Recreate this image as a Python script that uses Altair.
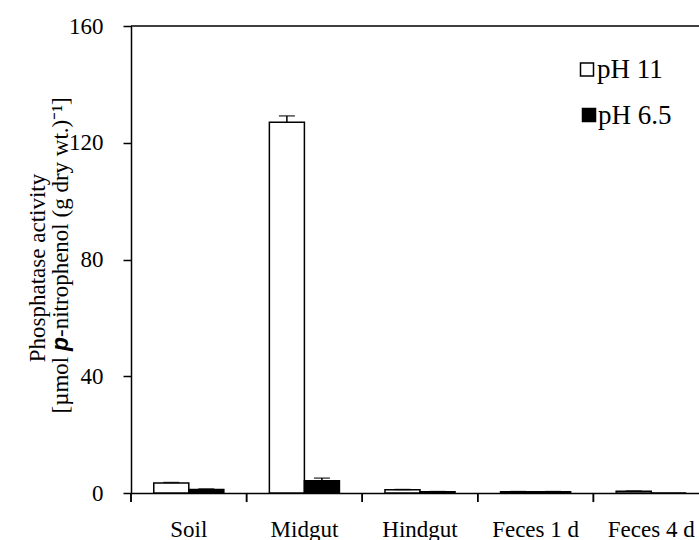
import altair as alt
import pandas as pd

# Phosphatase activity per gut section / sample, two assay pH values
categories = ["Soil", "Midgut", "Hindgut", "Feces 1 d", "Feces 4 d"]
series = ["pH 11", "pH 6.5"]
ph11_mean = [3.4, 127.0, 1.1, 0.4, 0.6]
ph11_err = [0.2, 2.2, 0.1, 0.1, 0.1]
ph65_mean = [1.2, 4.2, 0.4, 0.4, 0.0]
ph65_err = [0.2, 0.9, 0.1, 0.1, 0.0]
y_ticks = [0, 40, 80, 120, 160]

rows = []
for i, site in enumerate(categories):
    for name, means, errs in (("pH 11", ph11_mean, ph11_err), ("pH 6.5", ph65_mean, ph65_err)):
        rows.append({"site": site, "ph": name, "mean": means[i],
                     "err": errs[i], "upper": means[i] + errs[i]})
df = pd.DataFrame(rows)

SERIF = "Liberation Serif"
LEFT, TOP = 131, 26   # plot origin inside the page
PLOT_W = 568          # visible part of the plot area
BAND_RANGE = 578      # full category range (last band runs past the edge)
PLOT_H = 467
LINE = 1.5

x_enc = alt.X(
    "site:N", sort=categories,
    scale=alt.Scale(range=[0, BAND_RANGE], paddingInner=0, paddingOuter=0),
    axis=alt.Axis(title=None, ticks=False, tickSize=0, labelAngle=0,
                  labelFont=SERIF, labelFontSize=23, labelColor="black",
                  labelPadding=25, domainColor="black", domainWidth=LINE),
)
x_off = alt.XOffset("ph:N", sort=series,
                    scale=alt.Scale(paddingOuter=0.65, paddingInner=0))
y_scale = alt.Scale(domain=[0, 160], nice=False)

base = alt.Chart(df)

bars = base.mark_bar(stroke="black", strokeWidth=LINE).encode(
    x=x_enc,
    xOffset=x_off,
    y=alt.Y("mean:Q", scale=y_scale,
            axis=alt.Axis(title=None, values=y_ticks, grid=False,
                          tickSize=8, tickWidth=LINE, tickColor="black",
                          domainColor="black", domainWidth=LINE,
                          labelFont=SERIF, labelFontSize=23, labelColor="black",
                          labelPadding=20)),
    fill=alt.Fill("ph:N", sort=series,
                  scale=alt.Scale(domain=series, range=["white", "black"]),
                  legend=None),
)

err_df = base.transform_filter(alt.datum.err > 0)
err_lines = err_df.mark_rule(color="black", strokeWidth=LINE).encode(
    x=alt.X("site:N", sort=categories), xOffset=x_off,
    y=alt.Y("mean:Q", scale=y_scale), y2="upper:Q",
)
err_caps = err_df.mark_tick(color="black", thickness=LINE, size=16,
                            orient="horizontal").encode(
    x=alt.X("site:N", sort=categories), xOffset=x_off,
    y=alt.Y("upper:Q", scale=y_scale),
)

# category separators below the baseline
sep_ticks = base.mark_rule(color="black", strokeWidth=LINE).encode(
    x=alt.X("site:N", sort=categories, bandPosition=0),
    y=alt.value(PLOT_H), y2=alt.value(PLOT_H + 9),
)

one = alt.Data(values=[{}])

top_border = alt.Chart(one).mark_rule(color="black", strokeWidth=LINE).encode(
    x=alt.value(0), x2=alt.value(BAND_RANGE), y=alt.value(0),
)

# legend
LEG_FS = 27
def legend_entry(label, fill, sq_x, sq_y, tx, ty):
    sq = alt.Chart(one).mark_square(size=169, fill=fill, stroke="black",
                                    strokeWidth=LINE, opacity=1).encode(
        x=alt.value(sq_x - LEFT), y=alt.value(sq_y - TOP))
    tx_mark = alt.Chart(one).mark_text(text=label, font=SERIF, fontSize=LEG_FS,
                                       align="left", baseline="alphabetic",
                                       color="black").encode(
        x=alt.value(tx - LEFT), y=alt.value(ty - TOP))
    return sq + tx_mark

leg1 = legend_entry("pH 11", "white", 587, 69.5, 597, 78)
leg2 = legend_entry("pH 6.5", "black", 589, 115, 598, 124)

# y-axis title, with a bold italic sans "p"
TITLE_FS = 23
line1 = alt.Chart(one).mark_text(text="Phosphatase activity", font=SERIF,
                                 fontSize=TITLE_FS, angle=270, align="center",
                                 baseline="alphabetic", color="black").encode(
    x=alt.value(45 - LEFT), y=alt.value(268 - TOP))
P_START = 351 - TOP
P_W = 0.611 * TITLE_FS
SPACE_W = 0.25 * TITLE_FS
L2_X = 68 - LEFT
l2a = alt.Chart(one).mark_text(text="[µmol", font=SERIF, fontSize=TITLE_FS,
                               angle=270, align="right", baseline="alphabetic",
                               color="black").encode(
    x=alt.value(L2_X), y=alt.value(P_START + SPACE_W))
l2b = alt.Chart(one).mark_text(text="p", font="Liberation Sans", fontSize=TITLE_FS,
                               fontStyle="italic", fontWeight="bold",
                               angle=270, align="left", baseline="alphabetic",
                               color="black").encode(
    x=alt.value(L2_X), y=alt.value(P_START))
l2c = alt.Chart(one).mark_text(text="-nitrophenol (g dry wt.)⁻¹]", font=SERIF,
                               fontSize=TITLE_FS, angle=270, align="left",
                               baseline="alphabetic", color="black").encode(
    x=alt.value(L2_X), y=alt.value(P_START - P_W))

chart = alt.layer(
    bars, err_lines, err_caps, sep_ticks, top_border,
    leg1, leg2, line1, l2a, l2b, l2c,
).properties(
    width=PLOT_W, height=PLOT_H,
    autosize=alt.AutoSizeParams(type="none"),
    padding={"left": LEFT, "top": TOP, "right": 0, "bottom": 540 - TOP - PLOT_H},
    background="white",
).configure_view(stroke=None)

chart.save("out.html", embed_options={"renderer": "svg", "actions": False})
